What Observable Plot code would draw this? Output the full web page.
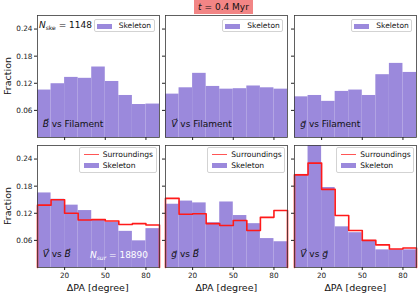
<!DOCTYPE html>
<html><head><meta charset="utf-8">
<script src="https://cdn.jsdelivr.net/npm/d3@7"></script>
<script src="https://cdn.jsdelivr.net/npm/@observablehq/plot@0.6"></script>
<style>
body{margin:0;background:#fff;font-family:"DejaVu Sans",sans-serif;}
#chart{position:relative;width:419px;height:295px;overflow:hidden;background:#fff;}
.abs{position:absolute;white-space:nowrap;line-height:1;}
#chart svg{position:absolute;overflow:visible;background:transparent;}
</style></head><body><div id="chart"></div>
<script>
// ---- data ----
const binEdges = [0,10,20,30,40,50,60,70,80,90];
const xTicks = [20,50,80];
const yTicks = [0.06,0.12,0.18,0.24];
const skeBvsFil = [0.105,0.119,0.133,0.131,0.156,0.124,0.093,0.073,0.074];
const skeVvsFil = [0.096,0.110,0.142,0.113,0.107,0.108,0.114,0.110,0.107];
const skeGvsFil = [0.090,0.093,0.080,0.102,0.105,0.093,0.139,0.164,0.144];
const skeVvsB = [0.165,0.151,0.138,0.126,0.106,0.100,0.080,0.059,0.086];
const surVvsB = [0.138,0.150,0.120,0.105,0.106,0.103,0.095,0.097,0.094];
const skeGvsB = [0.140,0.147,0.143,0.099,0.145,0.115,0.097,0.064,0.057];
const surGvsB = [0.153,0.118,0.119,0.097,0.093,0.104,0.082,0.111,0.126];
const skeVvsG = [0.206,0.280,0.177,0.090,0.077,0.060,0.039,0.039,0.039];
const surVvsG = [0.205,0.231,0.173,0.115,0.082,0.060,0.050,0.041,0.043];
const panelLabels = [
  '<i>B&#x20D7;</i> vs Filament', '<i>V&#x20D7;</i> vs Filament', '<i>g&#x20D7;</i> vs Filament',
  '<i>V&#x20D7;</i> vs <i>B&#x20D7;</i>', '<i>g&#x20D7;</i> vs <i>B&#x20D7;</i>', '<i>V&#x20D7;</i> vs <i>g&#x20D7;</i>'
];
const titleText = '<i>t</i> = 0.4 Myr';
const nSke = 1148, nSur = 18890;
const legendSke = "Skeleton", legendSur = "Surroundings";
const yLabel = "Fraction", xLabel = "ΔPA [degree]";

// ---- layout ----
const purple = "#9b89dc", red = "#ff1a1a";
const colLeft = [36.7, 165.3, 294.3], rowTop = [15, 145], pw = 122, ph = 122;
const mL = 40, mR = 10, mT = 10, mB = 30;
const panels = [
  {row:0,col:0,ske:skeBvsFil},{row:0,col:1,ske:skeVvsFil},{row:0,col:2,ske:skeGvsFil},
  {row:1,col:0,ske:skeVvsB,sur:surVvsB},{row:1,col:1,ske:skeGvsB,sur:surGvsB},{row:1,col:2,ske:skeVvsG,sur:surVvsG}
];
const chart = document.getElementById("chart");
function addDiv(html, css){const d=document.createElement("div");d.className="abs";d.innerHTML=html;Object.assign(d.style,css);chart.appendChild(d);return d;}

panels.forEach((p,i)=>{
  const skeData = p.ske.map((v,j)=>({x1:binEdges[j],x2:binEdges[j+1],y:v}));
  const marks = [Plot.rectY(skeData,{x1:"x1",x2:"x2",y:"y",fill:purple,clip:true})];
  if(p.sur){
    const pts=[{x:binEdges[0],y:0},...p.sur.map((v,j)=>({x:binEdges[j],y:v})),{x:binEdges[binEdges.length-1],y:p.sur[p.sur.length-1]},{x:binEdges[binEdges.length-1],y:0}];
    marks.push(Plot.line(pts,{x:"x",y:"y",curve:"step-after",stroke:red,strokeWidth:1.6}));
  }
  marks.push(Plot.frame({stroke:"#3a3a3a",strokeWidth:0.8}));
  marks.push(Plot.axisX({ticks:xTicks,tickSize:3,tickPadding:2,fontSize:7.3,label:null,tickFormat:p.row===1?(d=>String(d)):(()=>"")}));
  marks.push(Plot.axisY({ticks:yTicks,tickSize:3,tickPadding:2,fontSize:7.3,label:null,tickFormat:p.col===0?d3.format(".2f"):(()=>"")}));
  const svg = Plot.plot({width:pw+mL+mR,height:ph+mT+mB,marginLeft:mL,marginRight:mR,marginTop:mT,marginBottom:mB,
    x:{domain:[0,90]},y:{domain:[0,0.27]},marks,
    style:{fontFamily:"DejaVu Sans",color:"#222",background:"transparent",overflow:"visible"}});
  svg.style.left=(colLeft[p.col]-mL)+"px"; svg.style.top=(rowTop[p.row]-mT)+"px";
  chart.appendChild(svg);
  const fl=colLeft[p.col], ft=rowTop[p.row], fr=fl+pw, fb=ft+ph;
  addDiv(panelLabels[i],{left:(fl+6)+"px",top:(fb-17)+"px",fontSize:"9px",color:"#111"});
  if(p.row===0){
    addDiv("",{left:(fr-65)+"px",top:(ft+4)+"px",width:"61px",height:"13px",border:"1px solid #d3d3d3",borderRadius:"2px",background:"rgba(255,255,255,0.8)",boxSizing:"border-box"});
    addDiv("",{left:(fr-62)+"px",top:(ft+8.5)+"px",width:"15px",height:"5px",background:purple});
    addDiv(legendSke,{left:(fr-40)+"px",top:(ft+6.5)+"px",fontSize:"7.5px",color:"#111"});
  } else {
    addDiv("",{left:(fr-80)+"px",top:(ft+2)+"px",width:"78px",height:"26px",border:"1px solid #d3d3d3",borderRadius:"2px",background:"rgba(255,255,255,0.8)",boxSizing:"border-box"});
    addDiv("",{left:(fr-75)+"px",top:(ft+8.5)+"px",width:"15px",height:"1.6px",background:"#ff5555"});
    addDiv(legendSur,{left:(fr-56)+"px",top:(ft+5.5)+"px",fontSize:"7.6px",color:"#111"});
    addDiv("",{left:(fr-75)+"px",top:(ft+17.5)+"px",width:"15px",height:"5px",background:purple});
    addDiv(legendSke,{left:(fr-56)+"px",top:(ft+16.5)+"px",fontSize:"7.6px",color:"#111"});
    addDiv(xLabel,{left:(fl+pw/2)+"px",top:(fb+15.5)+"px",fontSize:"9.5px",color:"#111",transform:"translateX(-50%)"});
  }
});
addDiv('<i>N</i><sub style="font-size:6px;vertical-align:-2px">ske</sub> = '+nSke,{left:"39px",top:"21px",fontSize:"9px",color:"#111"});
addDiv('<i>N</i><sub style="font-size:6px;vertical-align:-2px;font-style:italic">sur</sub> = '+nSur,{left:"90px",top:"251px",fontSize:"9px",color:"#fff"});
[0,1].forEach(r=>addDiv(yLabel,{left:"8px",top:(rowTop[r]+ph/2)+"px",fontSize:"9.5px",color:"#111",transform:"translate(-50%,-50%) rotate(-90deg)"}));
addDiv(titleText,{left:"194px",top:"0px",width:"59px",height:"14px",background:"#f28585",fontSize:"9px",color:"#111",textAlign:"center",lineHeight:"14px"});
</script></body></html>
